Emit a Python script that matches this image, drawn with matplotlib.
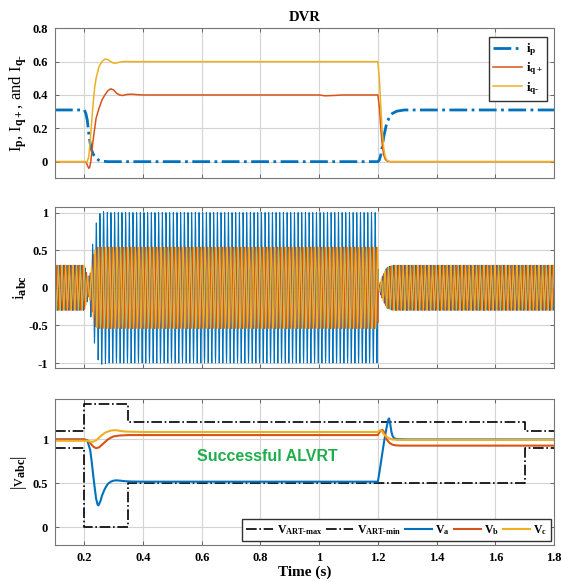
import numpy as np
import matplotlib
matplotlib.use("Agg")
import matplotlib.pyplot as plt

plt.rcParams["font.family"] = ["Liberation Serif", "DejaVu Serif"]
plt.rcParams["font.weight"] = "bold"
plt.rcParams["mathtext.fontset"] = "custom"
plt.rcParams["mathtext.rm"] = "Liberation Serif:bold"
plt.rcParams["mathtext.it"] = "Liberation Serif:bold"
plt.rcParams["mathtext.bf"] = "Liberation Serif:bold"
plt.rcParams["mathtext.default"] = "rm"

BLUE, ORANGE, YELLOW = "#0072BD", "#D95319", "#EDB120"
GREEN = "#1fae4b"
HY = "\u2010"  # hyphen, so mathtext does not space it like a minus

# ---- top panel: DVR current references (traced)
t_ip = [0.1, 0.2, 0.205, 0.21, 0.215, 0.22, 0.225, 0.23, 0.24, 0.25, 0.26, 0.28,
        1.2, 1.205, 1.21, 1.215, 1.22, 1.23, 1.24, 1.25, 1.265, 1.29, 1.8]
ip = [0.31, 0.31, 0.29, 0.25, 0.17, 0.11, 0.07, 0.045, 0.02, 0.008, 0.003, 0.0,
      0.0, 0.01, 0.04, 0.09, 0.15, 0.23, 0.27, 0.29, 0.303, 0.31, 0.31]

t_iqp = [0.1, 0.205, 0.21, 0.215, 0.218, 0.222, 0.23, 0.24, 0.25, 0.26, 0.27, 0.28,
         0.29, 0.3, 0.31, 0.32, 0.33, 0.345, 0.36, 0.38, 0.4, 1.0, 1.02, 1.05, 1.08,
         1.2, 1.205, 1.21, 1.215, 1.22, 1.225, 1.23, 1.24, 1.8]
iqp = [0.0, 0.0, -0.02, -0.04, -0.035, 0.0, 0.13, 0.26, 0.32, 0.37, 0.4, 0.425,
       0.437, 0.43, 0.41, 0.4, 0.397, 0.403, 0.405, 0.402, 0.4, 0.4, 0.395, 0.397, 0.4,
       0.4, 0.33, 0.2, 0.1, 0.04, 0.015, 0.005, 0.0, 0.0]

t_iqm = [0.1, 0.21, 0.215, 0.22, 0.225, 0.23, 0.235, 0.24, 0.25, 0.26, 0.27, 0.28,
         0.29, 0.3, 0.31, 0.32, 0.34, 0.36, 1.2, 1.205, 1.21, 1.215, 1.22, 1.225,
         1.23, 1.24, 1.8]
iqm = [0.0, 0.0, 0.03, 0.12, 0.24, 0.35, 0.44, 0.5, 0.57, 0.6, 0.615, 0.613,
       0.6, 0.591, 0.592, 0.597, 0.601, 0.6, 0.6, 0.5, 0.33, 0.18, 0.08, 0.03,
       0.01, 0.0, 0.0]

# ---- middle panel: phase current envelopes (traced); cycle density as drawn
F_DRAWN = 80.0
env_t = [0.1, 0.2, 0.215, 0.225, 0.235, 0.245, 0.26, 0.28, 1.2, 1.202, 1.215, 1.23, 1.25, 1.8]
amp_a = [0.3, 0.3, 0.12, 0.5, 0.75, 0.95, 1.02, 1.0, 1.0, 0.02, 0.15, 0.27, 0.3, 0.3]
amp_bc = [0.3, 0.3, 0.1, 0.3, 0.5, 0.54, 0.54, 0.54, 0.54, 0.02, 0.15, 0.27, 0.3, 0.3]

# ---- bottom panel: voltage magnitudes and ride-through limits (traced)
t_art = [0.1, 0.2, 0.35, 1.7, 1.8]
v_art_max = [1.1, 1.4, 1.2, 1.1, 1.1]
v_art_min = [0.9, 0.0, 0.5, 0.9, 0.9]

t_va = [0.1, 0.2, 0.21, 0.22, 0.225, 0.23, 0.235, 0.24, 0.245, 0.248, 0.255, 0.26,
        0.27, 0.28, 0.29, 0.3, 0.31, 0.32, 0.34, 0.36, 0.4, 1.2, 1.205, 1.21, 1.215,
        1.22, 1.225, 1.23, 1.235, 1.238, 1.242, 1.246, 1.25, 1.255, 1.265, 1.3, 1.8]
va = [1.0, 1.0, 0.99, 0.88, 0.75, 0.6, 0.46, 0.33, 0.26, 0.25, 0.3, 0.36,
      0.44, 0.495, 0.52, 0.532, 0.535, 0.532, 0.525, 0.522, 0.52, 0.52, 0.62, 0.73, 0.84,
      0.95, 1.05, 1.14, 1.22, 1.24, 1.18, 1.09, 1.04, 1.015, 1.003, 1.0, 1.0]

t_vb = [0.1, 0.2, 0.21, 0.22, 0.23, 0.24, 0.25, 0.26, 0.27, 0.28, 0.29, 0.3, 0.32,
        0.35, 1.2, 1.205, 1.21, 1.215, 1.22, 1.225, 1.23, 1.24, 1.25, 1.26, 1.28, 1.8]
vb = [1.0, 1.0, 0.99, 0.96, 0.92, 0.9, 0.91, 0.94, 0.97, 1.0, 1.02, 1.035, 1.045,
      1.05, 1.05, 1.08, 1.1, 1.11, 1.09, 1.05, 1.0, 0.96, 0.94, 0.933, 0.93, 0.93]

t_vc = [0.1, 0.21, 0.22, 0.23, 0.24, 0.25, 0.26, 0.27, 0.28, 0.29, 0.3, 0.31, 0.32,
        0.34, 0.4, 1.2, 1.205, 1.21, 1.215, 1.22, 1.23, 1.24, 1.25, 1.27, 1.8]
vc = [0.985, 0.985, 0.975, 0.975, 0.99, 1.02, 1.05, 1.075, 1.09, 1.1, 1.105, 1.105,
      1.098, 1.09, 1.085, 1.085, 1.1, 1.105, 1.09, 1.06, 1.03, 1.01, 1.0, 0.995, 0.995]

XTICKS = [0.2, 0.4, 0.6, 0.8, 1.0, 1.2, 1.4, 1.6, 1.8]
XTICKLABELS = ["0.2", "0.4", "0.6", "0.8", "1", "1.2", "1.4", "1.6", "1.8"]

fig = plt.figure(figsize=(5.61, 5.82), dpi=100)
L, W = 0.098, 0.8895
ax1 = fig.add_axes([L, 0.6936, W, 0.2578])
ax2 = fig.add_axes([L, 0.3672, W, 0.2766])
ax3 = fig.add_axes([L, 0.0636, W, 0.2508])


def style(ax):
    ax.set_xlim(0.1, 1.8)
    ax.set_xticks(XTICKS)
    ax.grid(True, color="#d4d4d4", lw=0.8)
    ax.set_axisbelow(True)
    ax.tick_params(direction="in", top=True, right=True, length=3, width=0.6,
                   color="#555555", labelsize=9, pad=5)
    for s in ax.spines.values():
        s.set_color("#777777")
        s.set_linewidth(0.8)
    ax.yaxis.set_label_coords(-0.052, 0.5)


# top
ax1.plot(t_ip, ip, "-.", color=BLUE, lw=2.0, label=r"i$_p$")
ax1.plot(t_iqp, iqp, "-", color=ORANGE, lw=1.1, label=r"i$_{q+}$")
ax1.plot(t_iqm, iqm, "-", color=YELLOW, lw=1.1, label="i$_{q" + HY + "}$")
style(ax1)
ax1.set_ylim(-0.1, 0.8)
ax1.set_yticks([0, 0.2, 0.4, 0.6, 0.8], ["0", "0.2", "0.4", "0.6", "0.8"])
ax1.set_xticklabels([])
ax1.set_ylabel("I$_p$, I$_{q+}$, and I$_{q" + HY + "}$", fontsize=12)
ax1.set_title("DVR", fontsize=10.5, fontweight="bold", pad=5)
ax1.legend(loc="upper right", bbox_to_anchor=(0.986, 0.94), borderaxespad=0,
           fontsize=9.5, handlelength=2.2, handletextpad=0.3, labelspacing=0.2,
           fancybox=False, framealpha=1, edgecolor="#333333", borderpad=0.3)

# middle
t = np.arange(0.1, 1.8, 1 / 20000)
env_a = np.interp(t, env_t, amp_a)
env_bc = np.interp(t, env_t, amp_bc)
w = 2 * np.pi * F_DRAWN * t
ax2.plot(t, env_a * np.sin(w), color=BLUE, lw=0.7)
ax2.plot(t, env_bc * np.sin(w - 2 * np.pi / 3), color=ORANGE, lw=0.7)
ax2.plot(t, env_bc * np.sin(w + 2 * np.pi / 3), color=YELLOW, lw=0.7)
style(ax2)
ax2.set_ylim(-1.07, 1.07)
ax2.set_yticks([-1, -0.5, 0, 0.5, 1], ["-1", "-0.5", "0", "0.5", "1"])
ax2.set_xticklabels([])
ax2.set_ylabel(r"i$_{abc}$", fontsize=12.5)

# bottom
ax3.plot(t_art, v_art_max, "-.", color="black", lw=1.2, drawstyle="steps-post",
         label="V$_{ART" + HY + "max}$")
ax3.plot(t_art, v_art_min, "-.", color="black", lw=1.2, drawstyle="steps-post",
         label="V$_{ART" + HY + "min}$")
ax3.plot(t_va, va, color=BLUE, lw=1.5, label=r"V$_a$")
ax3.plot(t_vb, vb, color=ORANGE, lw=1.5, label=r"V$_b$")
ax3.plot(t_vc, vc, color=YELLOW, lw=1.5, label=r"V$_c$")
style(ax3)
ax3.set_ylim(-0.2, 1.46)
ax3.set_yticks([0, 0.5, 1], ["0", "0.5", "1"])
ax3.set_xticklabels(XTICKLABELS)
ax3.set_ylabel(r"|v$_{abc}$|", fontsize=12.5)
ax3.set_xlabel("Time (s)", fontsize=11, fontweight="bold", labelpad=1)
ax3.text(0.822, 0.81, "Successful ALVRT", color=GREEN, fontsize=11.5,
         fontweight="bold", family="Liberation Sans", ha="center", va="center")
ax3.legend(loc="lower right", bbox_to_anchor=(0.995, 0.025), borderaxespad=0,
           ncol=5, fontsize=8.5, handlelength=2.3, handletextpad=0.3,
           columnspacing=0.3, fancybox=False, framealpha=1, edgecolor="#333333",
           borderpad=0.35)

fig.savefig("out.png", dpi=100)
